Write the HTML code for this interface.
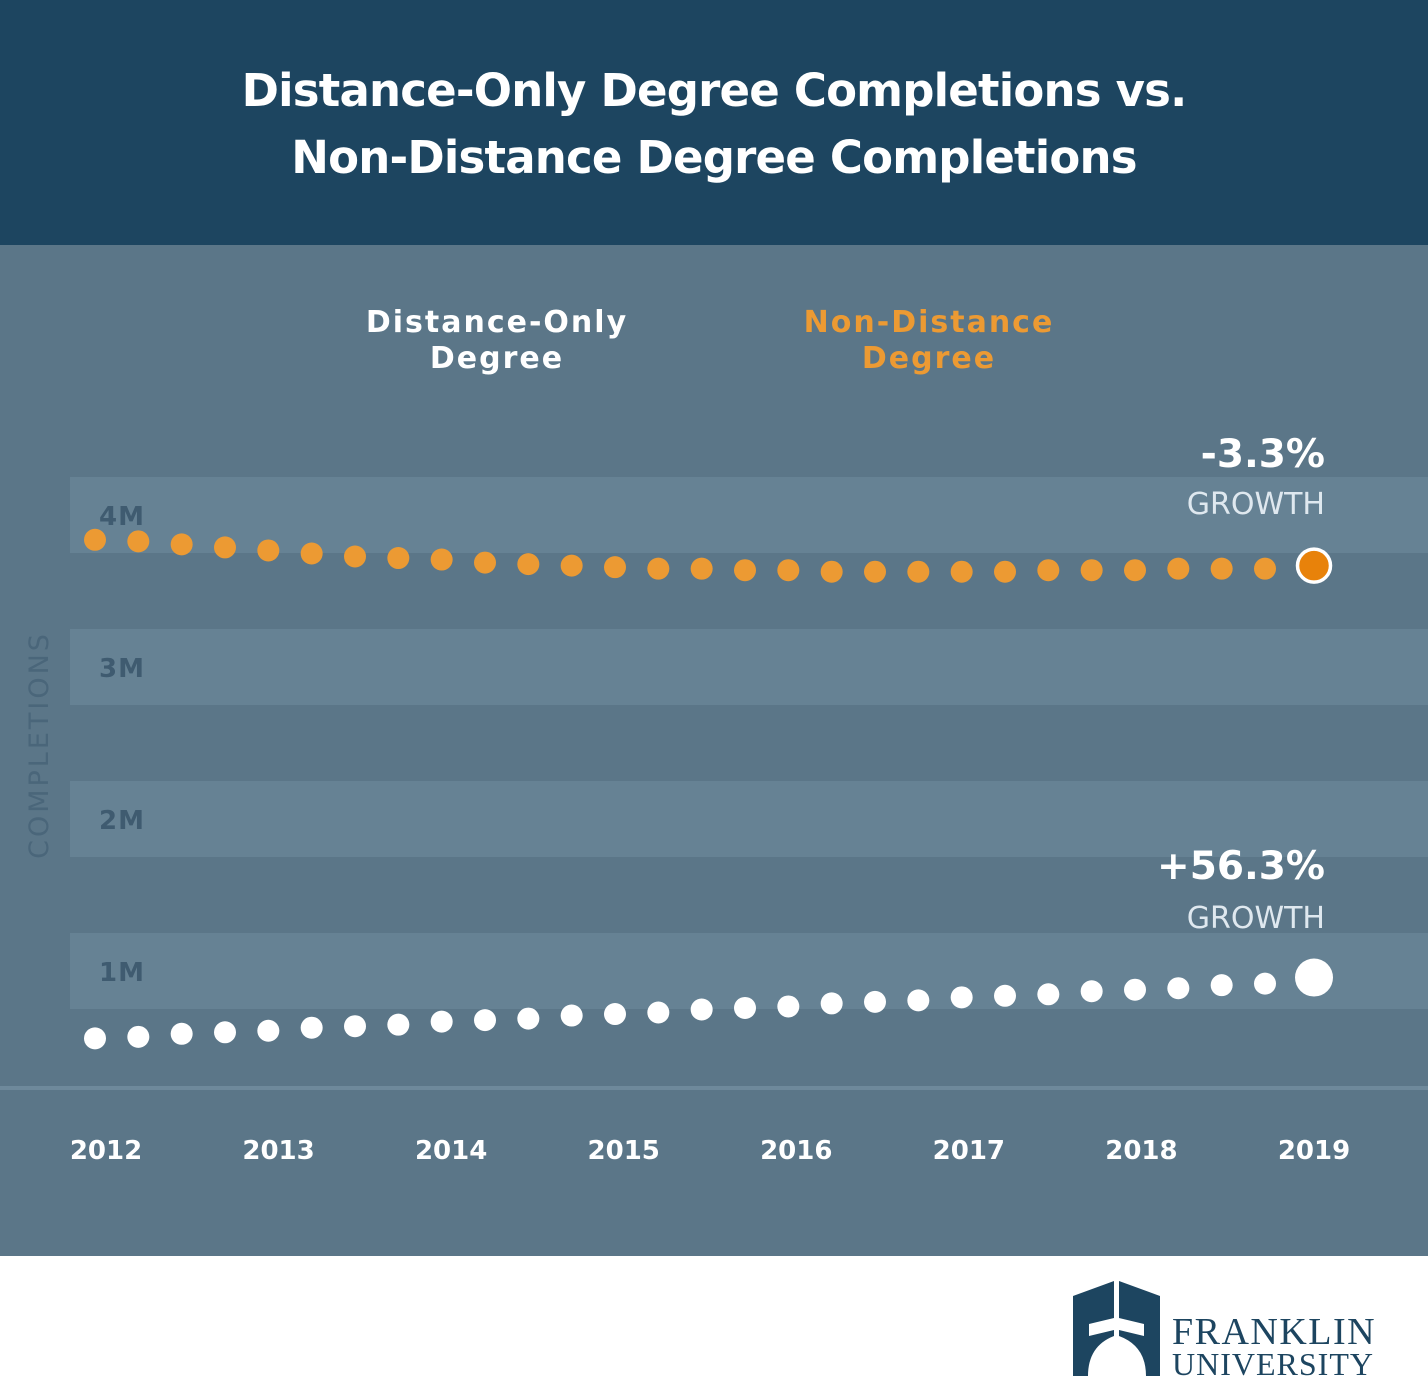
<!DOCTYPE html>
<html><head><meta charset="utf-8">
<style>
html,body{margin:0;padding:0}
body{width:1428px;height:1400px;position:relative;overflow:hidden;font-family:"DejaVu Sans","Liberation Sans",sans-serif;background:#fff}
#header{position:absolute;left:0;top:0;width:1428px;height:245px;background:#1d4560}
#title{position:absolute;left:0;top:57px;width:1428px;text-align:center;color:#fff;font-weight:bold;font-size:45px;line-height:67px;letter-spacing:-0.8px}
#chart{position:absolute;left:0;top:245px}
#footer{position:absolute;left:0;top:1256px;width:1428px;height:144px;background:#fff}
</style></head><body>
<div id="header">
<div id="title">Distance-Only Degree Completions vs.<br>Non-Distance Degree Completions</div>
</div>
<svg id="chart" width="1428" height="1011" viewBox="0 245 1428 1011" xmlns="http://www.w3.org/2000/svg">
<rect x="0" y="245" width="1428" height="1011" fill="#5b7688"/>
<g id="bands"></g>
<rect x="0" y="1086" width="1428" height="4" fill="#6e899b"/>
<text x="48" y="745" transform="rotate(-90 48 745)" text-anchor="middle" fill="#4a667a" font-size="27" letter-spacing="3">COMPLETIONS</text>
<text x="497" y="332" text-anchor="middle" fill="#fff" font-weight="bold" font-size="30" letter-spacing="2"><tspan x="497">Distance-Only</tspan><tspan x="497" dy="36">Degree</tspan></text>
<text x="929" y="332" text-anchor="middle" fill="#ec9a33" font-weight="bold" font-size="30" letter-spacing="2"><tspan x="929">Non-Distance</tspan><tspan x="929" dy="36">Degree</tspan></text>
<text x="1325" y="467" text-anchor="end" fill="#fff" font-weight="bold" font-size="39">-3.3%</text>
<text x="1325" y="514" text-anchor="end" fill="#dfe8ef" font-size="30">GROWTH</text>
<text x="1325" y="879" text-anchor="end" fill="#fff" font-weight="bold" font-size="39">+56.3%</text>
<text x="1325" y="928" text-anchor="end" fill="#dfe8ef" font-size="30">GROWTH</text>
<g id="xticks"></g>
<g id="series-nd"></g>
<g id="series-d"></g>
</svg>
<div id="footer">
<svg width="1428" height="144" style="position:absolute;left:0;top:0">
<path d="M1073 120 V40 L1114 25 V62 L1089 68 V80 L1114 74 V80 Q1088 90 1088 120 Z" fill="#1d4560"/>
<path d="M1160 120 V40 L1119 25 V62 L1144 68 V80 L1119 74 V80 Q1146 90 1146 120 Z" fill="#1d4560"/>
<text x="1172" y="88" fill="#1d4560" font-family="Liberation Serif,serif" font-size="38" letter-spacing="1.5">FRANKLIN</text>
<text x="1172" y="119" fill="#1d4560" font-family="Liberation Serif,serif" font-size="32" letter-spacing="1">UNIVERSITY</text>
</svg>
</div>
<script>
const yTickValues = [4, 3, 2, 1];
const yTickLabels = ["4M", "3M", "2M", "1M"];
const years = ["2012","2013","2014","2015","2016","2017","2018","2019"];
const nonDistance = [3.60,3.59,3.57,3.55,3.53,3.51,3.49,3.48,3.47,3.45,3.44,3.43,3.42,3.41,3.41,3.40,3.40,3.39,3.39,3.39,3.39,3.39,3.40,3.40,3.40,3.41,3.41,3.41,3.43];
const distanceOnly = [0.32,0.33,0.35,0.36,0.37,0.39,0.40,0.41,0.43,0.44,0.45,0.47,0.48,0.49,0.51,0.52,0.53,0.55,0.56,0.57,0.59,0.60,0.61,0.63,0.64,0.65,0.67,0.68,0.72];
const NS="http://www.w3.org/2000/svg";
function y(v){return 1087 - v*152;}
function xPt(i,n){return i===n-1 ? 1314 : 95 + i*(1265-95)/(n-2);}
function xYear(i){return 106 + i*(1314-106)/(years.length-1);}
function mk(tag,attrs,parent){const e=document.createElementNS(NS,tag);for(const k in attrs)e.setAttribute(k,attrs[k]);parent.appendChild(e);return e;}
const bands=document.getElementById('bands');
yTickValues.forEach((v,i)=>{
  const r=mk('rect',{x:70,y:y(v)-2,width:1358,height:76,fill:'#668294'},bands);
  
  
  const t=mk('text',{x:99,y:y(v)+46,fill:'#3f5b70','font-weight':'bold','font-size':26,'letter-spacing':1},bands);
  t.textContent=yTickLabels[i];
  
  
});
const xt=document.getElementById('xticks');
years.forEach((yr,i)=>{
  const t=mk('text',{x:xYear(i),y:1159,'text-anchor':'middle',fill:'#fff','font-weight':'bold','font-size':26},xt);
  t.textContent=yr;
  
  
});
const nd=document.getElementById('series-nd');
nonDistance.forEach((v,i)=>{
  const last=i===nonDistance.length-1;
  const c=mk('circle',{cx:xPt(i,nonDistance.length),cy:y(v),r:last?16.5:11,fill:last?'#e8820a':'#ec9a33',stroke:last?'#fff':'none','stroke-width':last?3.5:0},nd);
  
  
});
const d=document.getElementById('series-d');
distanceOnly.forEach((v,i)=>{
  const last=i===distanceOnly.length-1;
  const c=mk('circle',{cx:xPt(i,distanceOnly.length),cy:y(v),r:last?19:11,fill:'#fff'},d);
  
  
});
</script>
</body></html>
